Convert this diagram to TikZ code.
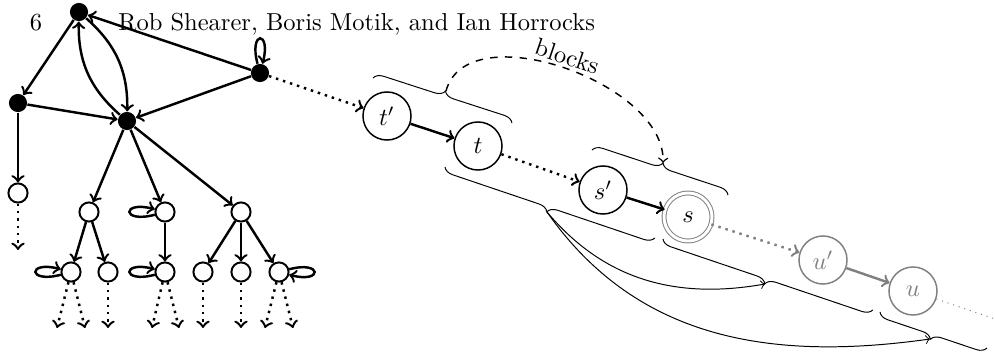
\documentclass[tikz,border=0pt]{standalone}
\usepackage{amsmath}
\usepackage{amssymb}
\usepackage{tikz}
\usetikzlibrary{positioning, decorations.pathreplacing}

\tikzset{
  blk/.style={circle, fill=black, inner sep=0pt, minimum size=7.4pt},
  wht/.style={circle, draw, line width=0.8pt, inner sep=0pt, minimum size=7.8pt},
  big/.style={circle, draw, semithick, inner sep=0pt, minimum size=19.6pt},
  edg/.style={->, line width=1pt},
  dotedg/.style={->, line width=1pt, dotted},
  lp/.style={->, line width=1pt, min distance=2.5mm},
  brc/.style={decorate, decoration={brace, amplitude=4pt}, thin},
  brcm/.style={decorate, decoration={brace, amplitude=4pt, mirror}, thin},
}

\begin{document}
\begin{tikzpicture}[x=0.408pt, y=-0.408pt]
  \useasboundingbox (0,0) rectangle (995,358);
  % running head
  \node (pno) [anchor=base] at (36,30) {6};
  \node (hdr) [anchor=base west, inner sep=0pt] at (118,30) {Rob Shearer, Boris Motik, and Ian Horrocks};

  % left graph
  \node (A) [blk] at (79,12) {};
  \node (B) [blk] at (260,73) {};
  \node (C) [blk] at (18,103) {};
  \node (D) [blk] at (127,121) {};
  \node (c1) [wht] at (18,193) {};
  \node (n1) [wht] at (89,212) {};
  \node (n2) [wht] at (165,212) {};
  \node (n3) [wht] at (241,212) {};
  \node (l1) [wht] at (71,272) {};
  \node (l2) [wht] at (108,272) {};
  \node (l3) [wht] at (165,272) {};
  \node (l4) [wht] at (203,272) {};
  \node (l5) [wht] at (241,272) {};
  \node (l6) [wht] at (279,272) {};

  \draw [edg] (A) -- (C);
  \draw [edg] (B) -- (A);
  \draw [edg] (B) -- (D);
  \draw [edg] (C) -- (D);
  \draw [edg] (A) to[bend left=25] (D);
  \draw [edg] (D) to[bend left=25] (A);
  \draw [lp] (B) to[loop above] (B);
  \draw [edg] (C) -- (c1);
  \draw [edg] (D) -- (n1);
  \draw [edg] (D) -- (n2);
  \draw [edg] (D) -- (n3);
  \draw [edg] (n1) -- (l1);
  \draw [edg] (n1) -- (l2);
  \draw [edg] (n2) -- (l3);
  \draw [edg] (n3) -- (l4);
  \draw [edg] (n3) -- (l5);
  \draw [edg] (n3) -- (l6);
  \draw [lp] (n2) to[loop left] (n2);
  \draw [lp] (l1) to[loop left] (l1);
  \draw [lp] (l3) to[loop left] (l3);
  \draw [lp] (l6) to[loop right] (l6);

  % open ends
  \coordinate (c1e) at (18,250);
  \draw [dotedg] (c1) -- (c1e);
  \foreach \src/\x in {l1/57, l1/85, l2/108, l3/152, l3/179, l4/203, l5/241, l6/265, l6/293} {
    \coordinate (\src-\x) at (\x,328);
    \draw [dotedg] (\src) -- (\src-\x);
  }

  % chain
  \node (tp) [big] at (387,116) {$t'$};
  \node (t) [big] at (478,146) {$t$};
  \node (sp) [big] at (603,190) {$s'$};
  \node (s) [big, draw=gray, thin, double, double distance=1.2pt] at (688,217) {$s$};
  \node (up) [big, gray] at (823,260) {$u'$};
  \node (u) [big, gray] at (913,291) {$u$};
  \coordinate (uend) at (995,319);

  \draw [dotedg] (B) -- (tp);
  \draw [edg] (tp) -- (t);
  \draw [dotedg] (t) -- (sp);
  \draw [edg] (sp) -- (s);
  \draw [dotedg, gray] (s) -- (up);
  \draw [edg, gray] (up) -- (u);
  \draw [thin, dotted, gray] (u) -- (uend);

  % braces
  \coordinate (b1s) at (373,78);  \coordinate (b1e) at (512,123);  \coordinate (b1t) at (446,91);
  \coordinate (b2s) at (592,150); \coordinate (b2e) at (728,195);  \coordinate (b2t) at (663,163);
  \coordinate (b3s) at (445,167); \coordinate (b3e) at (655,238);  \coordinate (b3t) at (547,212);
  \coordinate (b4s) at (663,239); \coordinate (b4e) at (873,310);  \coordinate (b4t) at (765,284);
  \coordinate (b5s) at (880,312); \coordinate (b5e) at (987,348);  \coordinate (b5t) at (930,339);
  \draw [brc] (b1s) -- (b1e);
  \draw [brc] (b2s) -- (b2e);
  \draw [brcm] (b3s) -- (b3e);
  \draw [brcm] (b4s) -- (b4e);
  \draw [brcm] (b5s) -- (b5e);

  \draw [->, dashed, semithick] (b1t) to[out=75, in=88, looseness=0.9] node[pos=.5, sloped, above, inner sep=1pt] {blocks} (b2t);
  \draw [->, thin] (b3t) to[out=-50, in=190] (b4t);
  \draw [->, thin] (b3t) to[out=-55, in=188] (b5t);
\end{tikzpicture}
\end{document}
